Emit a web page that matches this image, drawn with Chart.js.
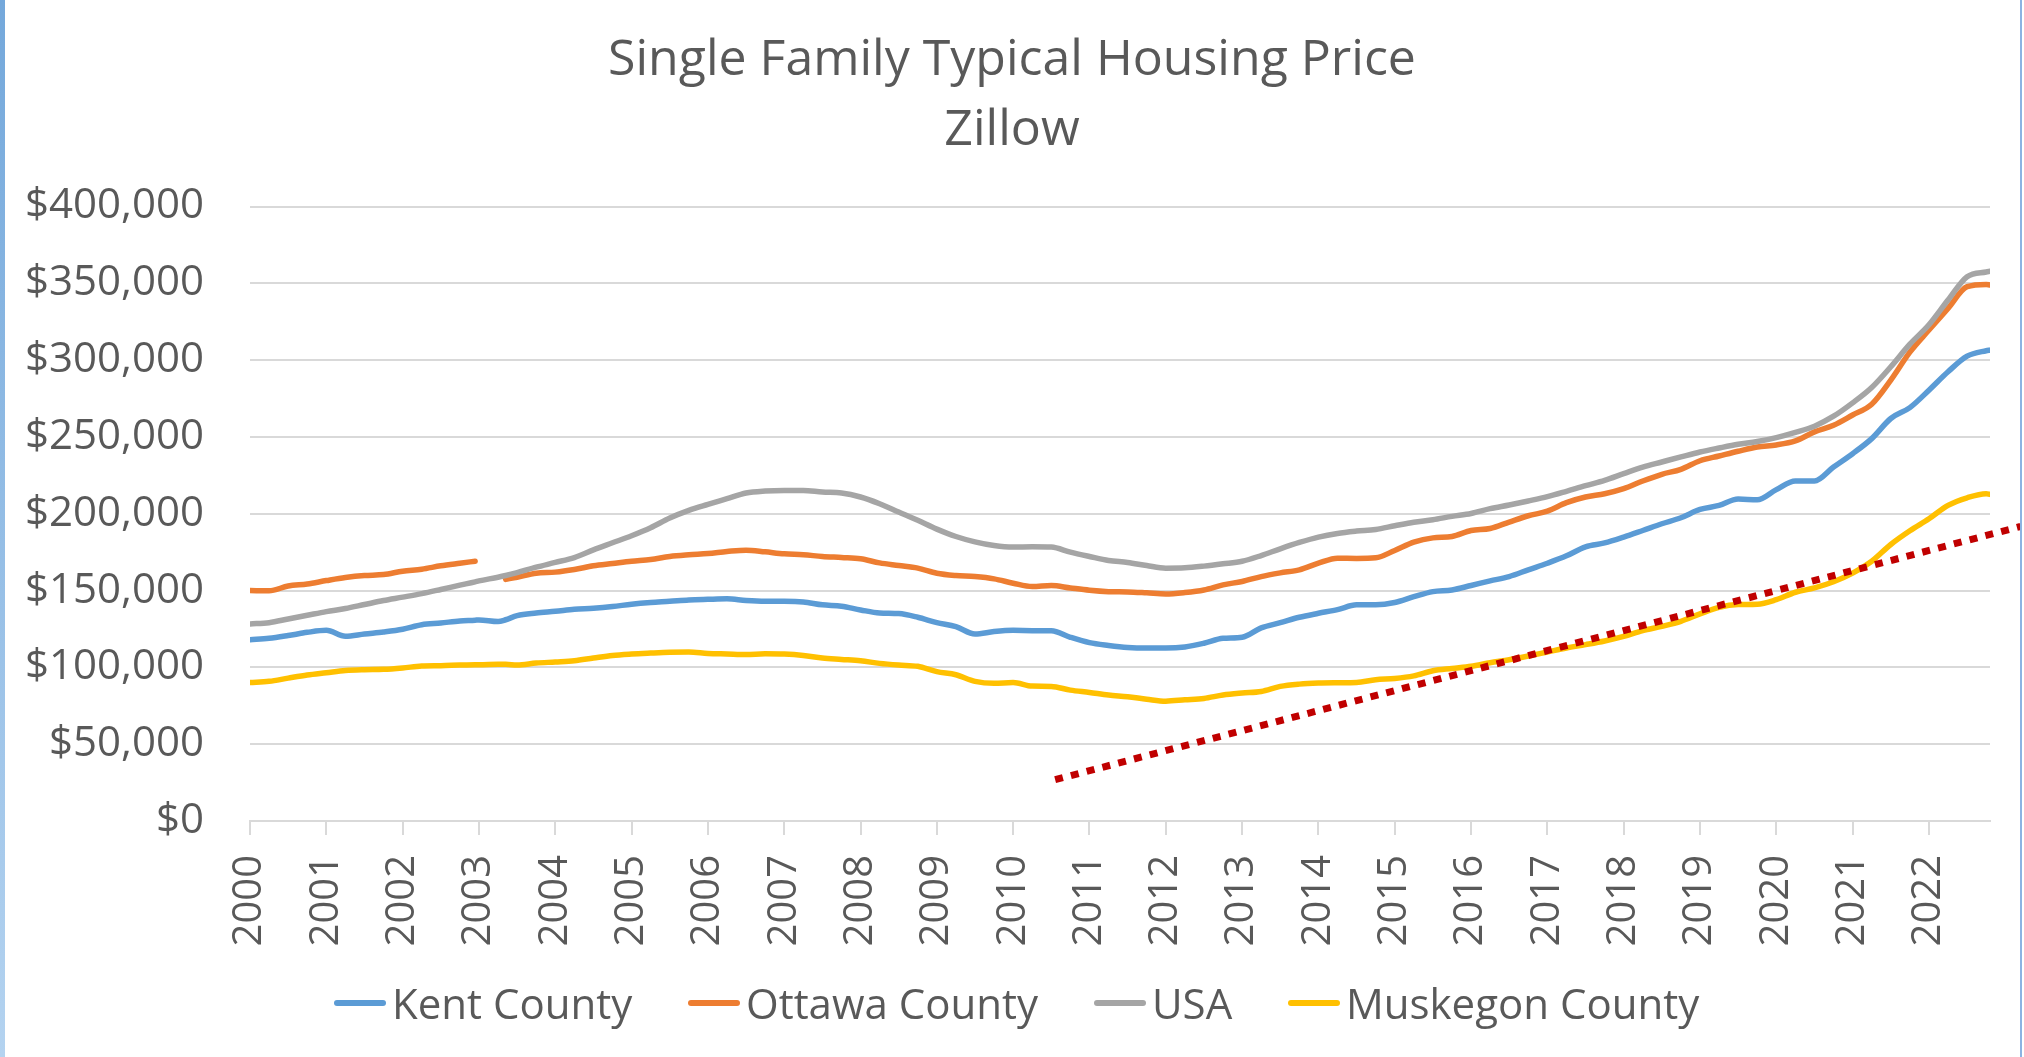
<!DOCTYPE html>
<html>
<head>
<meta charset="utf-8">
<script src="https://cdn.jsdelivr.net/npm/chart.js@4.4.1/dist/chart.umd.min.js"></script>
<style>
  html, body { margin: 0; padding: 0; background: #ffffff; overflow: hidden; }
  #wrap { position: relative; width: 2024px; height: 1057px; background: #ffffff; }
  #c { position: absolute; left: 0; top: 0; }
  #leftEdge { position: absolute; left: 0; top: 0; width: 5px; height: 1057px;
              background: linear-gradient(#74A8DB, #B4D3F0); }
  #rightEdge { position: absolute; left: 2020px; top: 0; width: 2px; height: 1057px; background: #8CB3E2; }
  .item { position: absolute; top: 978px; height: 50px; display: flex; align-items: center;
          font-family: "Open Sans", sans-serif; font-size: 42px; color: #595959; line-height: 50px; white-space: nowrap; }
  .mk { display: inline-block; width: 52px; height: 6px; border-radius: 3px; margin-right: 6px; }
</style>
</head>
<body>
<div id="wrap">
  <canvas id="c" width="2024" height="1057"></canvas>
  <div id="leftEdge"></div>
  <div id="rightEdge"></div>
  <div id="legend"></div>
</div>
<script>
// ---- Data ----
const chartTitle = ["Single Family Typical Housing Price", "Zillow"];
const yearLabels = ["2000","2001","2002","2003","2004","2005","2006","2007","2008","2009","2010",
  "2011","2012","2013","2014","2015","2016","2017","2018","2019","2020","2021","2022"];
const seriesNames = ["Kent County", "Ottawa County", "USA", "Muskegon County"];
const seriesColors = ["#5B9BD5", "#ED7D31", "#A5A5A5", "#FFC000"];

const sampleYears = [
  2000, 2000.25, 2000.5, 2000.75, 2001, 2001.25, 2001.5, 2001.75, 2002, 2002.25, 2002.5, 2002.75,
  2002.95, 2003, 2003.25, 2003.35, 2003.5, 2003.75,
  2004, 2004.25, 2004.5, 2004.75, 2005, 2005.25, 2005.5, 2005.75,
  2006, 2006.25, 2006.5, 2006.75, 2007, 2007.25, 2007.5, 2007.75,
  2008, 2008.25, 2008.5, 2008.75, 2009, 2009.25, 2009.5, 2009.75,
  2010, 2010.25, 2010.5, 2010.75, 2011, 2011.25, 2011.5, 2011.75,
  2012, 2012.25, 2012.5, 2012.75, 2013, 2013.25, 2013.5, 2013.75,
  2014, 2014.25, 2014.5, 2014.75, 2015, 2015.25, 2015.5, 2015.75,
  2016, 2016.25, 2016.5, 2016.75, 2017, 2017.25, 2017.5, 2017.75,
  2018, 2018.25, 2018.5, 2018.75, 2019, 2019.25, 2019.5, 2019.75,
  2020, 2020.25, 2020.5, 2020.75, 2021, 2021.25, 2021.5, 2021.75,
  2022, 2022.25, 2022.5, 2022.75, 2022.8
];

const kentCounty = [
  118000, 118900, 120700, 122800, 124100, 120200, 121700, 123000, 124800, 127800, 128900, 130200,
  130700, 130900, 129800, 131000, 133700, 135400,
  136500, 137800, 138500, 139600, 141100, 142200, 143000, 143900,
  144300, 144600, 143500, 143000, 143000, 142600, 140700, 139800,
  137400, 135400, 135000, 132600, 129100, 126500, 121700, 123300,
  124100, 123900, 123900, 119600, 116100, 114300, 113000, 112600,
  112600, 113300, 115700, 118900, 119600, 125700, 129100, 132600,
  135200, 137600, 140700, 140700, 142200, 146000, 149300, 150400,
  153300, 156300, 159100, 163500, 167800, 172600, 178500, 181000,
  184800, 189100, 193500, 197400, 202800, 205400, 209600, 209100,
  215700, 221300, 221300, 230400, 239100, 248900, 262000, 269100,
  280400, 292400, 302600, 306100, 306500
];

const ottawaCounty = [
  150000, 149800, 153000, 154300, 156500, 158500, 159800, 160400, 162600, 163900, 166100, 167800,
  169100, null, null, 157300, 158700, 161300,
  162000, 163700, 166100, 167600, 169100, 170200, 172200, 173300,
  174100, 175400, 176300, 175200, 173900, 173300, 172200, 171500,
  170700, 168000, 166300, 164600, 161300, 159800, 159100, 157600,
  154800, 152600, 153300, 151700, 150200, 149300, 149100, 148500,
  147800, 148700, 150400, 153700, 155900, 159100, 161500, 163500,
  167800, 171100, 170900, 171300, 176100, 181500, 184300, 185200,
  189100, 190400, 194600, 198700, 201700, 207200, 210900, 213000,
  216300, 221300, 225700, 228900, 234500, 237600, 240700, 243500,
  244800, 247400, 253300, 257600, 264300, 271300, 287000, 305200,
  319600, 333700, 347800, 349300, 348900
];

const usa = [
  128300, 129100, 131500, 133900, 136300, 138300, 140900, 143500, 145700, 148000, 150700, 153500,
  155700, 156300, 158700, 159800, 161700, 165200,
  168300, 171500, 176500, 181100, 185700, 190900, 197200, 202200,
  206100, 209800, 213500, 214800, 215200, 215200, 214100, 213500,
  210900, 206500, 201100, 195700, 190000, 185200, 181700, 179300,
  178300, 178500, 178300, 175000, 172200, 169600, 168300, 166300,
  164600, 164800, 165900, 167400, 169100, 172800, 177200, 181300,
  184800, 187200, 188700, 189800, 192200, 194500, 196100, 198300,
  200200, 203300, 205700, 208300, 211100, 214600, 218300, 221700,
  226100, 230400, 233700, 237000, 240200, 242800, 245200, 247000,
  249600, 253000, 257000, 263500, 272200, 282200, 295700, 310400,
  323000, 339100, 354300, 357400, 357800
];

const muskegonCounty = [
  90200, 90900, 93000, 95000, 96500, 98000, 98500, 98700, 99600, 100900, 101100, 101500,
  101700, 101700, 102000, 102000, 101500, 102800,
  103500, 104300, 106100, 107800, 108700, 109300, 109800, 110000,
  109100, 108700, 108300, 108900, 108700, 107800, 106100, 105200,
  104300, 102600, 101500, 100700, 97200, 95200, 90900, 89600,
  90200, 87800, 87600, 85200, 83700, 82000, 80900, 79300,
  78000, 78900, 79800, 82000, 83300, 84300, 87600, 89100,
  89800, 90000, 90200, 92000, 92800, 94500, 97800, 99300,
  100700, 103000, 105000, 107400, 110000, 112600, 114800, 117200,
  120200, 123900, 126700, 130000, 134800, 139100, 140900, 141100,
  144100, 148900, 151700, 155700, 161300, 169100, 180000, 188900,
  196700, 205400, 210400, 213000, 212600
];

// dotted red guide line drawn over the chart
const trendYears = [2010.55, 2023.2];
const trendValues = [26900, 191700];

const yMin = 0, yMax = 400000, yStep = 50000;

// ---- Build ----
function pts(xs, ys) { return xs.map((x, i) => ({ x: x, y: ys[i] })); }
const seriesValues = [kentCounty, ottawaCounty, usa, muskegonCounty];

const datasets = seriesValues.map((vals, i) => ({
  label: seriesNames[i],
  data: pts(sampleYears, vals),
  borderColor: seriesColors[i],
  backgroundColor: seriesColors[i],
  borderWidth: 5.5,
  pointRadius: 0,
  borderCapStyle: 'round',
  borderJoinStyle: 'round',
  cubicInterpolationMode: 'monotone',
  spanGaps: false,
  fill: false,
  order: 4 - i
}));
datasets.push({
  label: 'Trend',
  data: pts(trendYears, trendValues),
  borderColor: '#C00000',
  borderWidth: 7,
  borderDash: [8, 8.3],
  borderCapStyle: 'butt',
  pointRadius: 0,
  tension: 0,
  fill: false,
  clip: false,
  order: 0
});

// legend (HTML), item anchors as in the reference
const legendLeft = [334, 688, 1094, 1288];
const lg = document.getElementById('legend');
seriesNames.forEach((n, i) => {
  const it = document.createElement('div'); it.className = 'item'; it.style.left = legendLeft[i] + 'px';
  const mk = document.createElement('span'); mk.className = 'mk'; mk.style.background = seriesColors[i];
  const tx = document.createElement('span'); tx.textContent = n;
  it.appendChild(mk); it.appendChild(tx); lg.appendChild(it);
});

const FONT = '"Open Sans", sans-serif';
const TXT = '#595959';
const GRID = '#D9D9D9';

function makeChart() {
  new Chart(document.getElementById('c'), {
    type: 'line',
    data: { datasets: datasets },
    options: {
      responsive: false,
      animation: false,
      devicePixelRatio: 1,
      layout: { padding: { top: 0, right: 0, bottom: 0, left: 0 } },
      plugins: {
        legend: { display: false },
        tooltip: { enabled: false },
        title: {
          display: true,
          text: chartTitle,
          color: TXT,
          font: { family: FONT, size: 50, weight: 'normal', lineHeight: 1.4 },
          padding: { top: 25.5, bottom: 41 }
        }
      },
      scales: {
        x: {
          type: 'linear',
          min: 2000,
          max: 2022.8,
          afterBuildTicks: (s) => { s.ticks = yearLabels.map((l, i) => ({ value: 2000 + i })); },
          afterFit: (s) => { s.height = 236; },
          ticks: {
            autoSkip: false,
            maxRotation: 90,
            minRotation: 90,
            padding: 20,
            color: TXT,
            font: { family: FONT, size: 40 },
            callback: (v, i) => yearLabels[i]
          },
          grid: { drawOnChartArea: false, drawTicks: true, tickLength: 14, color: GRID, lineWidth: 2 },
          border: { display: true, color: GRID, width: 2 }
        },
        y: {
          min: yMin,
          max: yMax,
          afterFit: (s) => { s.width = 250; },
          ticks: {
            stepSize: yStep,
            padding: 46,
            color: TXT,
            font: { family: FONT, size: 42 },
            callback: (v) => '$' + Number(v).toLocaleString('en-US')
          },
          grid: { drawTicks: false, color: GRID, lineWidth: 2 },
          border: { display: false }
        },
        // empty right-hand spacer so the plot ends where the reference's does
        ySpacer: {
          position: 'right',
          display: true,
          min: yMin,
          max: yMax,
          afterFit: (s) => { s.width = 34; },
          ticks: { display: false },
          grid: { display: false, drawOnChartArea: false, drawTicks: false },
          border: { display: false }
        }
      }
    }
  });
}

if (document.fonts && document.fonts.load) {
  Promise.all([document.fonts.load('42px "Open Sans"'), document.fonts.load('50px "Open Sans"')])
    .then(makeChart, makeChart);
} else { makeChart(); }
</script>
</body>
</html>
